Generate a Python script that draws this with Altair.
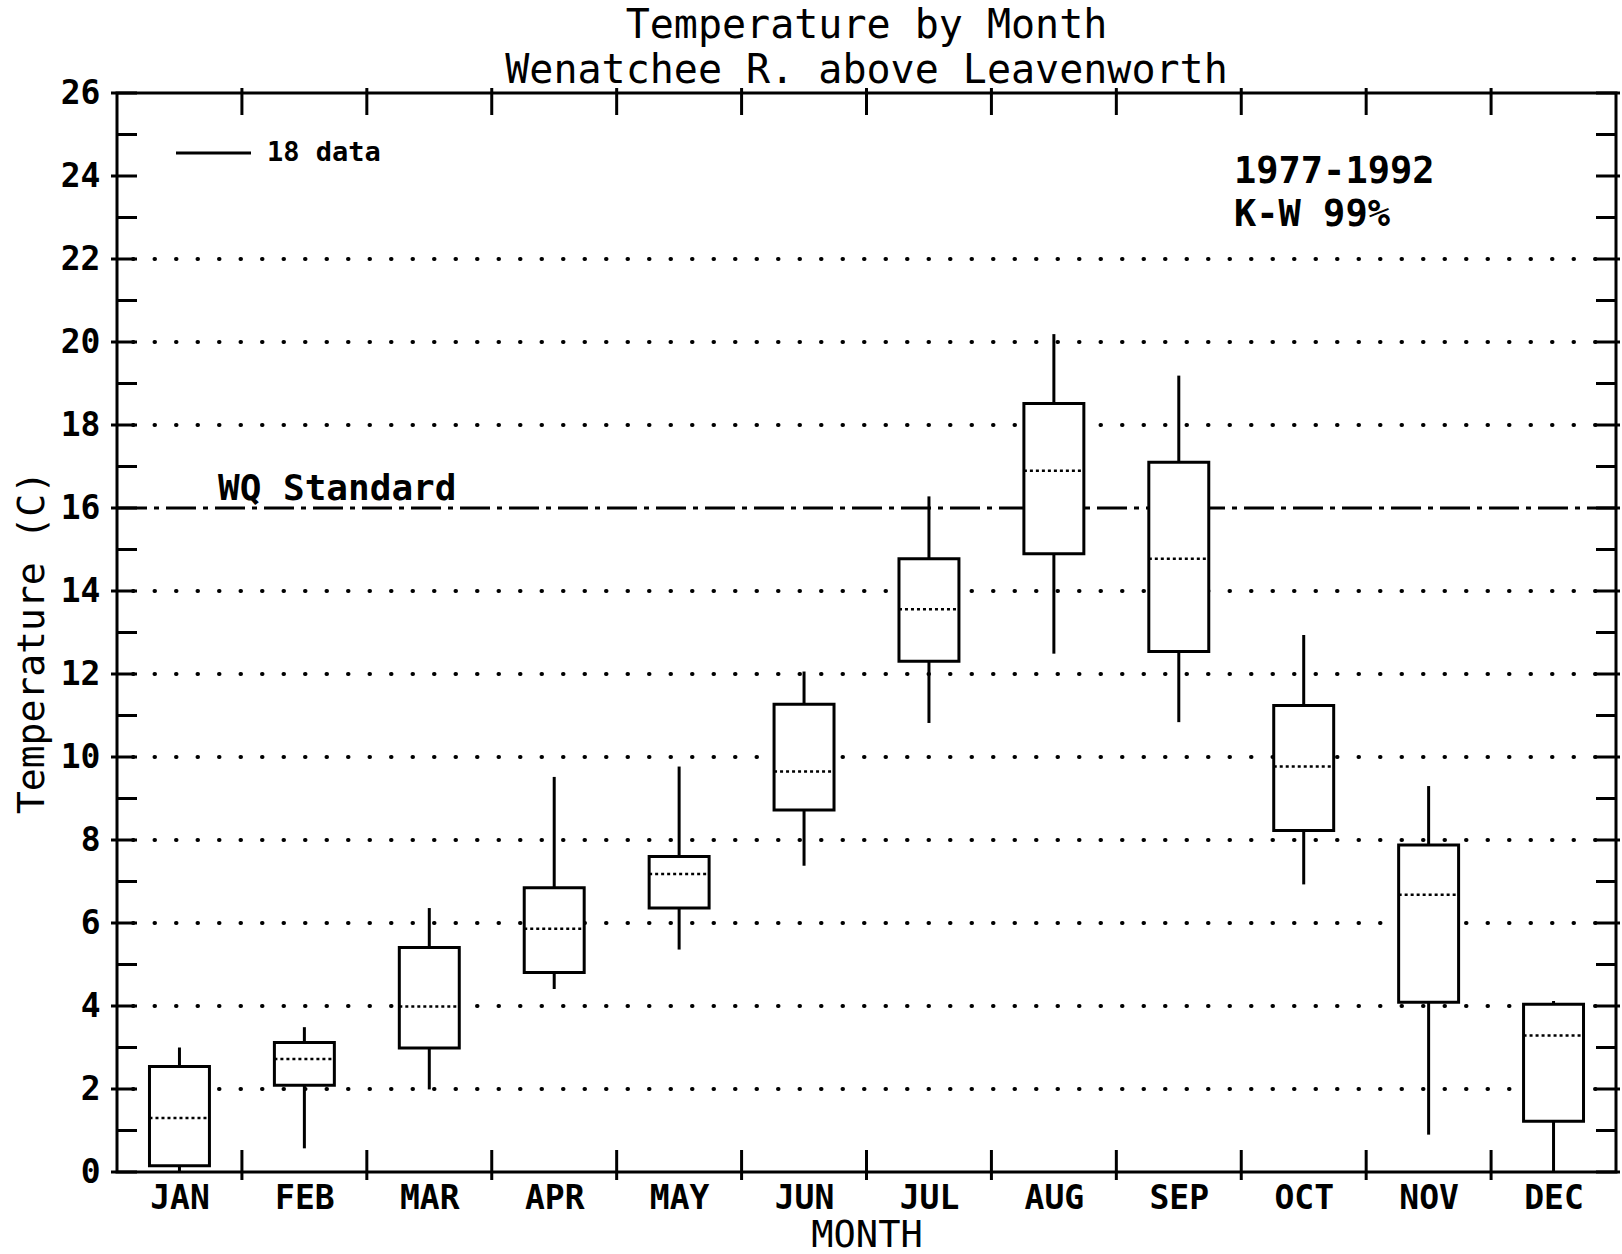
import json
import altair as alt
import pandas as pd

# ---------------- data ----------------
months = ["JAN", "FEB", "MAR", "APR", "MAY", "JUN", "JUL", "AUG", "SEP", "OCT", "NOV", "DEC"]
month_num = list(range(1, 13))
whisker_low = [0.0, 0.57, 1.99, 4.41, 5.36, 7.38, 10.82, 12.49, 10.84, 6.93, 0.90, 0.0]
q1 = [0.15, 2.09, 2.99, 4.81, 6.36, 8.72, 12.31, 14.90, 12.54, 8.23, 4.09, 1.22]
median = [1.30, 2.72, 3.99, 5.86, 7.18, 9.65, 13.56, 16.90, 14.78, 9.77, 6.68, 3.29]
q3 = [2.54, 3.12, 5.41, 6.85, 7.60, 11.27, 14.78, 18.52, 17.10, 11.24, 7.88, 4.04]
whisker_high = [3.00, 3.49, 6.36, 9.52, 9.77, 12.06, 16.28, 20.19, 19.19, 12.94, 9.30, 4.12]

wq_standard = [16]
grid_values = [2, 4, 6, 8, 10, 12, 14, 18, 20, 22]
y_ticks_minor = list(range(0, 27))
y_ticks_major = list(range(0, 27, 2))
month_bounds = [1.5, 2.5, 3.5, 4.5, 5.5, 6.5, 7.5, 8.5, 9.5, 10.5, 11.5]

title_lines = ["Temperature by Month", "Wenatchee R. above Leavenworth"]
legend_text = "18 data"
period_text = "1977-1992"
test_text = "K-W 99%"
standard_text = "WQ Standard"

# ---------------- layout ----------------
W, H = 1499, 1079
FONT = "DejaVu Sans Mono"
HALF = 0.24

box_df = pd.DataFrame({
    "month": month_num, "name": months,
    "wlo": whisker_low, "q1": q1, "med": median, "q3": q3, "whi": whisker_high,
})

xscale = alt.Scale(domain=[0.5, 12.5], nice=False, zero=False)
yscale = alt.Scale(domain=[0, 26], nice=False, zero=False)

label_expr = json.dumps(months) + "[datum.value - 1]"

XAXIS = alt.Axis(
    values=month_num, labelExpr=label_expr, ticks=False, domain=False, grid=False,
    labelFont=FONT, labelFontSize=33, labelFontWeight="bold", labelPadding=10,
    labelColor="black",
    title="MONTH", titleFont=FONT, titleFontSize=37, titleFontWeight="normal",
    titleColor="black", titleBaseline="alphabetic", titleY=74,
)
YAXIS = alt.Axis(
    values=y_ticks_major, ticks=False, domain=False, grid=False, format="d",
    labelFont=FONT, labelFontSize=33, labelFontWeight="bold", labelPadding=17,
    labelColor="black",
    title="Temperature (C)", titleFont=FONT, titleFontSize=38,
    titleFontWeight="normal", titleColor="black", titleAngle=270,
    titleBaseline="alphabetic", titleAlign="center", titleX=-74, titleY=549,
)


def X(field):
    return alt.X(field, scale=xscale, axis=XAXIS)


def Y(field):
    return alt.Y(field, scale=yscale, axis=YAXIS)


base = alt.Chart(box_df)

grid = alt.Chart(pd.DataFrame({"g": grid_values})).mark_rule(
    color="black", strokeWidth=4, strokeDash=[0.5, 21], strokeCap="round"
).encode(y=Y("g:Q"), x=alt.value(16), x2=alt.value(W))

standard = alt.Chart(pd.DataFrame({"s": wq_standard})).mark_rule(
    color="black", strokeWidth=3, strokeDash=[30, 7, 5, 7]
).encode(y=Y("s:Q"), x=alt.value(0), x2=alt.value(W))

whisk_up = base.mark_rule(color="black", strokeWidth=3).encode(
    x=X("month:Q"), y=Y("q3:Q"), y2="whi:Q")
whisk_dn = base.mark_rule(color="black", strokeWidth=3).encode(
    x=X("month:Q"), y=Y("wlo:Q"), y2="q1:Q")

boxes = base.transform_calculate(
    lo=f"datum.month - {HALF}", hi=f"datum.month + {HALF}"
).mark_rect(fill="white", stroke="black", strokeWidth=3).encode(
    x=X("lo:Q"), x2="hi:Q", y=Y("q1:Q"), y2="q3:Q")

medians = base.transform_calculate(
    lo=f"datum.month - {HALF}", hi=f"datum.month + {HALF}"
).mark_rule(color="black", strokeWidth=2.5, strokeDash=[3, 3]).encode(
    x=X("lo:Q"), x2="hi:Q", y=Y("med:Q"))

# axis tick marks drawn inward
yt_df = pd.DataFrame({"v": y_ticks_minor})
ytm_df = pd.DataFrame({"v": y_ticks_major})
left_ticks = alt.Chart(yt_df).mark_rule(color="black", strokeWidth=3).encode(
    y=Y("v:Q"), x=alt.value(0), x2=alt.value(20))
left_stubs = alt.Chart(ytm_df).mark_rule(color="black", strokeWidth=3).encode(
    y=Y("v:Q"), x=alt.value(-6), x2=alt.value(0))
right_ticks = alt.Chart(yt_df).mark_rule(color="black", strokeWidth=3).encode(
    y=Y("v:Q"), x=alt.value(W - 20), x2=alt.value(W))
right_stubs = alt.Chart(ytm_df).mark_rule(color="black", strokeWidth=3).encode(
    y=Y("v:Q"), x=alt.value(W), x2=alt.value(W + 4))

b_df = pd.DataFrame({"b": month_bounds})
top_ticks = alt.Chart(b_df).mark_rule(color="black", strokeWidth=3).encode(
    x=X("b:Q"), y=alt.value(-5), y2=alt.value(22))
bottom_ticks = alt.Chart(b_df).mark_rule(color="black", strokeWidth=3).encode(
    x=X("b:Q"), y=alt.value(H - 22), y2=alt.value(H + 8))

# annotations
legend_line = alt.Chart(pd.DataFrame({"t": [legend_text]})).mark_rule(
    color="black", strokeWidth=3).encode(x=alt.value(59), x2=alt.value(134), y=alt.value(60))
legend_lbl = alt.Chart(pd.DataFrame({"t": [legend_text]})).mark_text(
    font=FONT, fontSize=27, fontWeight="bold", align="left", baseline="middle", color="black"
).encode(text="t:N", x=alt.value(150), y=alt.value(60))

period_lbl = alt.Chart(pd.DataFrame({"t": [period_text]})).mark_text(
    font=FONT, fontSize=37, fontWeight="bold", align="left", baseline="middle", color="black"
).encode(text="t:N", x=alt.value(1117), y=alt.value(79))
test_lbl = alt.Chart(pd.DataFrame({"t": [test_text]})).mark_text(
    font=FONT, fontSize=37, fontWeight="bold", align="left", baseline="middle", color="black"
).encode(text="t:N", x=alt.value(1117), y=alt.value(122))
std_lbl = alt.Chart(pd.DataFrame({"t": [standard_text]})).mark_text(
    font=FONT, fontSize=36, fontWeight="bold", align="left", baseline="middle", color="black"
).encode(text="t:N", x=alt.value(101), y=alt.value(396))

chart = alt.layer(
    grid, standard, whisk_up, whisk_dn, boxes, medians,
    left_ticks, left_stubs, right_ticks, right_stubs, top_ticks, bottom_ticks,
    legend_line, legend_lbl, period_lbl, test_lbl, std_lbl,
).properties(
    width=W, height=H,
    title=alt.TitleParams(
        text=title_lines, font=FONT, fontSize=40, fontWeight="normal", color="black",
        anchor="middle", offset=-14, lineHeight=45,
    ),
    autosize=alt.AutoSizeParams(type="none"),
    padding={"left": 117, "top": 93, "right": 6, "bottom": 82},
    background="white",
).configure_view(stroke="black", strokeWidth=3)

chart.save("out.html", embed_options={"renderer": "svg", "actions": False})
